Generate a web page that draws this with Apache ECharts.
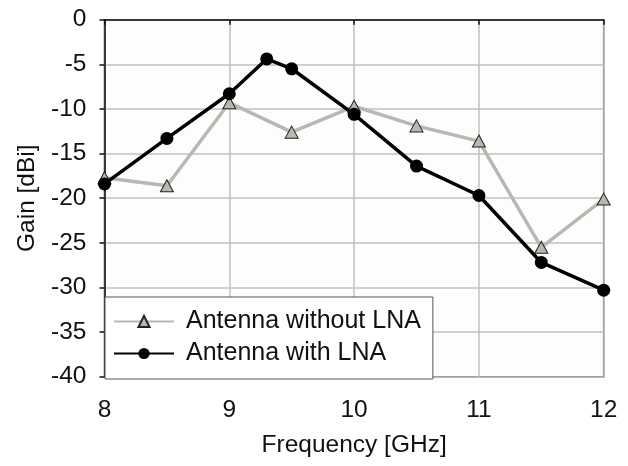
<!DOCTYPE html>
<html>
<head>
<meta charset="utf-8">
<script src="https://cdn.jsdelivr.net/npm/echarts@6/dist/echarts.min.js"></script>
<style>
html,body{margin:0;padding:0;background:#ffffff;}
#chart{width:628px;height:466px;}
</style>
</head>
<body>
<div id="chart"></div>
<script>
var freqNoLNA = [8, 8.5, 9, 9.5, 10, 10.5, 11, 11.5, 12];
var gainNoLNA = [-17.7, -18.6, -9.3, -12.6, -9.7, -11.9, -13.6, -25.5, -20.1];
var freqLNA = [8, 8.5, 9, 9.3, 9.5, 10, 10.5, 11, 11.5, 12];
var gainLNA = [-18.4, -13.3, -8.3, -4.4, -5.5, -10.6, -16.4, -19.7, -27.2, -30.3];
var seriesNames = ['Antenna without LNA', 'Antenna with LNA'];
var xTicks = [8, 9, 10, 11, 12];
var yTicks = [-40, -35, -30, -25, -20, -15, -10, -5, 0];

function pairs(xs, ys) { return xs.map(function (x, i) { return [x, ys[i]]; }); }

var FONT = 'Liberation Sans, Arial, sans-serif';
var chart = echarts.init(document.getElementById('chart'));
chart.setOption({
  animation: false,
  backgroundColor: '#ffffff',
  grid: {
    left: 104.5, right: 24.3, top: 19.7, bottom: 89.3,
    show: true, backgroundColor: '#fdfdfd', borderColor: '#444', borderWidth: 1.5
  },
  xAxis: {
    type: 'value', min: xTicks[0], max: xTicks[xTicks.length - 1], interval: 1,
    name: 'Frequency [GHz]', nameLocation: 'middle', nameGap: 56,
    nameTextStyle: { fontFamily: FONT, fontSize: 24.5, color: '#111' },
    axisLine: { show: true, lineStyle: { color: '#111', width: 1.5 } },
    axisTick: { show: true, inside: false, length: 5, lineStyle: { color: '#111', width: 1.5 } },
    axisLabel: { fontFamily: FONT, fontSize: 24.5, color: '#111', margin: 21 },
    splitLine: { show: true, lineStyle: { color: '#c2c2ba', width: 1.5 } }
  },
  yAxis: {
    type: 'value', min: yTicks[0], max: yTicks[yTicks.length - 1], interval: 5,
    name: 'Gain [dBi]', nameLocation: 'middle', nameGap: 64,
    nameTextStyle: { fontFamily: FONT, fontSize: 24.5, color: '#111' },
    axisLine: { show: true, lineStyle: { color: '#111', width: 1.5 } },
    axisTick: { show: true, inside: false, length: 5, lineStyle: { color: '#111', width: 1.5 } },
    axisLabel: { fontFamily: FONT, fontSize: 24.5, color: '#111', margin: 18 },
    splitLine: { show: true, lineStyle: { color: '#c2c2ba', width: 1.5 } }
  },
  legend: {
    orient: 'vertical', left: 105, top: 297,
    padding: [12, 12, 13, 8], itemGap: 7, itemWidth: 60, itemHeight: 14,
    backgroundColor: '#ffffff', borderColor: '#555', borderWidth: 1,
    textStyle: { fontFamily: FONT, fontSize: 25, color: '#111', padding: [0, 0, 0, 7] },
    data: seriesNames
  },
  series: [
    {
      name: seriesNames[0], type: 'line', data: pairs(freqNoLNA, gainNoLNA),
      symbol: 'triangle', symbolSize: [13, 12],
      lineStyle: { color: '#b8b8b0', width: 3.5 },
      itemStyle: { color: '#b8b8b0', borderColor: '#222', borderWidth: 1 }
    },
    {
      name: seriesNames[1], type: 'line', data: pairs(freqLNA, gainLNA),
      symbol: 'circle', symbolSize: 13,
      lineStyle: { color: '#000', width: 3.5 },
      itemStyle: { color: '#000', borderColor: '#000', borderWidth: 0 }
    }
  ]
});
</script>
</body>
</html>
